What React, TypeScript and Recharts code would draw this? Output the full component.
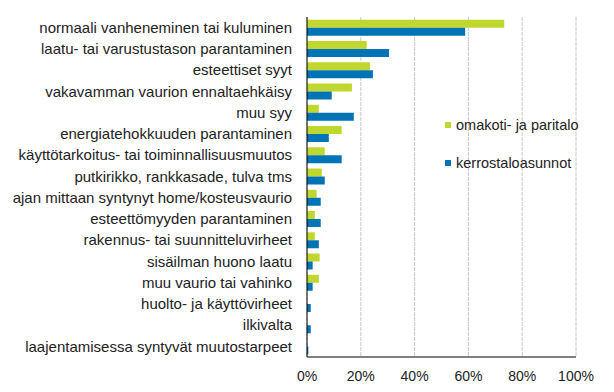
import React from 'react';
import { BarChart, Bar, XAxis, YAxis, CartesianGrid, Legend } from 'recharts';

const categories = [
  'normaali vanheneminen tai kuluminen',
  'laatu- tai varustustason parantaminen',
  'esteettiset syyt',
  'vakavamman vaurion ennaltaehkäisy',
  'muu syy',
  'energiatehokkuuden parantaminen',
  'käyttötarkoitus- tai toiminnallisuusmuutos',
  'putkirikko, rankkasade, tulva tms',
  'ajan mittaan syntynyt home/kosteusvaurio',
  'esteettömyyden parantaminen',
  'rakennus- tai suunnitteluvirheet',
  'sisäilman huono laatu',
  'muu vaurio tai vahinko',
  'huolto- ja käyttövirheet',
  'ilkivalta',
  'laajentamisessa syntyvät muutostarpeet',
];
const omakoti = [73.3, 22.2, 23.4, 16.7, 4.4, 12.9, 6.6, 5.5, 3.6, 2.9, 2.9, 4.7, 4.4, 0, 0, 0];
const kerrostalo = [58.8, 30.5, 24.5, 9.2, 17.4, 8.1, 12.9, 6.6, 5.1, 5.1, 4.4, 2.1, 2.1, 1.4, 1.4, 0.5];
const xTicks = [0, 20, 40, 60, 80, 100];
const seriesNames = ['omakoti- ja paritalo', 'kerrostaloasunnot'];
const colors = ['#C0D72F', '#0074B4'];

const data = categories.map((c, i) => ({ name: c, a: omakoti[i], b: kerrostalo[i] }));

const LegendContent = () => (
  <div style={{ fontFamily: '"Liberation Sans", Arial, sans-serif', fontSize: 14.5, color: '#222' }}>
    {seriesNames.map((n, i) => (
      <div key={n} style={{ display: 'flex', alignItems: 'center', height: 20, marginBottom: i === 0 ? 18 : 0 }}>
        <span style={{ display: 'inline-block', width: 6, height: 6, background: colors[i], marginRight: 5 }} />
        <span>{n}</span>
      </div>
    ))}
  </div>
);

export default function App() {
  return (
    <div style={{ position: 'absolute', left: 0, top: 0, width: 614, height: 392, background: '#fff' }}>
      <BarChart
        width={614}
        height={392}
        data={data}
        layout="vertical"
        margin={{ top: 17, right: 38, bottom: 5, left: 0 }}
        barCategoryGap="13%"
        barGap={0}
      >
        <CartesianGrid horizontal={false} stroke="#c8c8c8" strokeDasharray="4 1" />
        <XAxis
          type="number"
          domain={[0, 100]}
          ticks={xTicks}
          interval={0}
          tickFormatter={(v) => `${v}%`}
          axisLine={{ stroke: '#000' }}
          tickLine={false}
          tick={{ fill: '#222', fontSize: 14, fontFamily: '"Liberation Sans", Arial, sans-serif' }}
          tickMargin={8}
          height={30}
        />
        <YAxis
          type="category"
          dataKey="name"
          width={307}
          axisLine={{ stroke: '#000' }}
          tickLine={false}
          interval={0}
          tickMargin={9}
          tick={{ fill: '#222', fontSize: 15, fontFamily: '"Liberation Sans", Arial, sans-serif' }}
        />
        <Legend
          layout="vertical"
          verticalAlign="middle"
          align="center"
          content={<LegendContent />}
          wrapperStyle={{ left: 445, top: 115, width: 165 }}
        />
        <Bar dataKey="a" name={seriesNames[0]} fill={colors[0]} isAnimationActive={false} />
        <Bar dataKey="b" name={seriesNames[1]} fill={colors[1]} isAnimationActive={false} />
      </BarChart>
    </div>
  );
}
